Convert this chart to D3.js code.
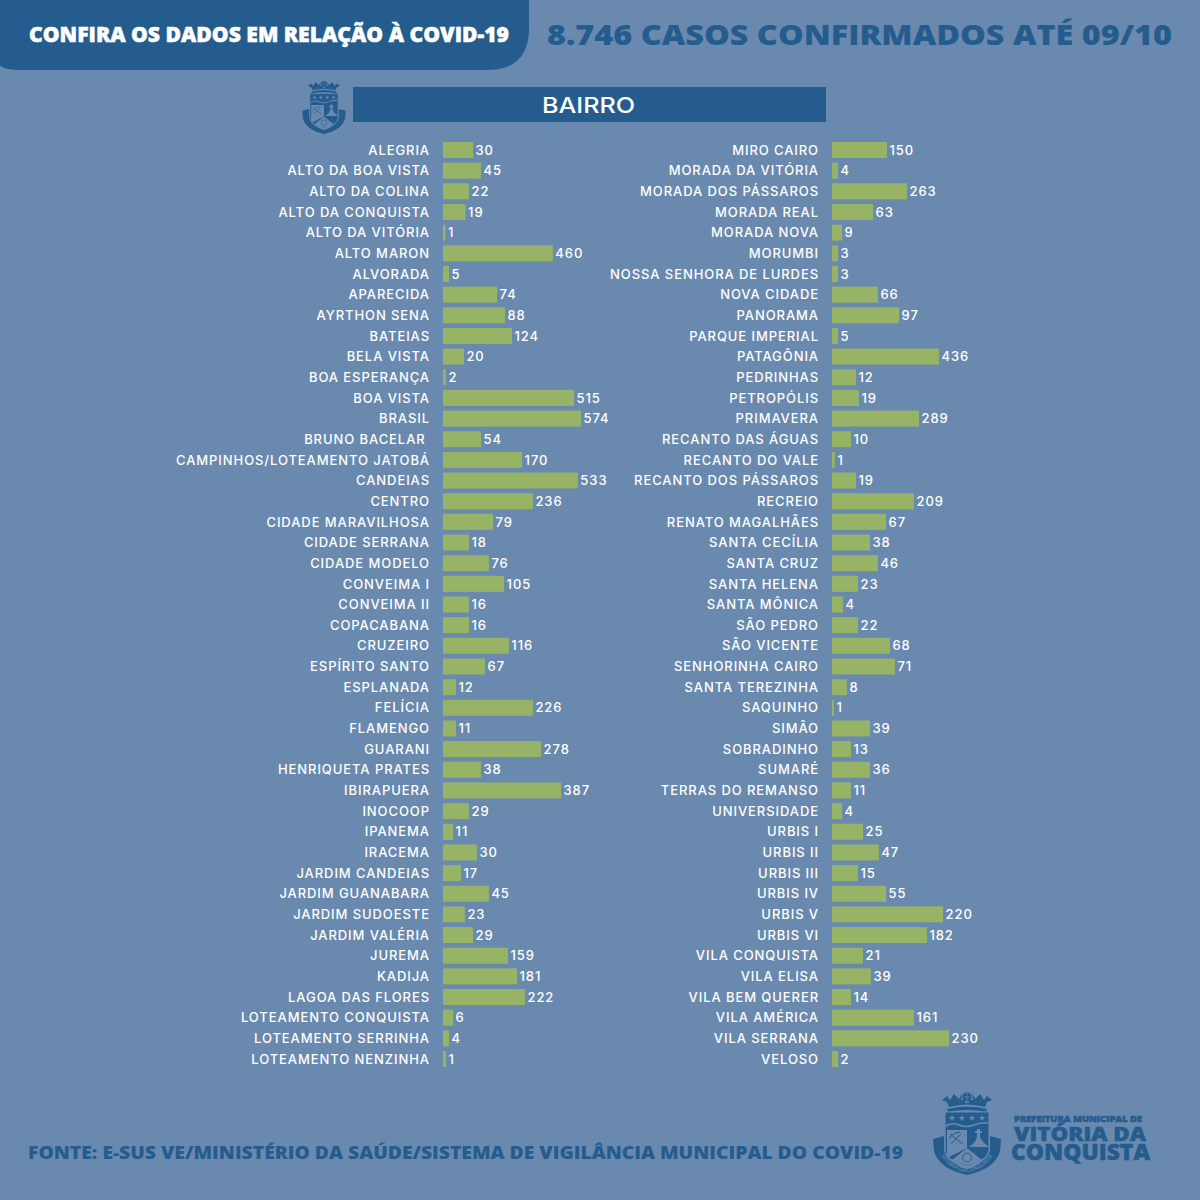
<!DOCTYPE html>
<html lang="pt-BR"><head><meta charset="utf-8">
<script src="https://cdn.jsdelivr.net/npm/d3@7/dist/d3.min.js"></script>
<style>
html,body{margin:0;padding:0;background:#6a89ae}
svg{display:block}
text{white-space:pre}
.row text{font-family:"Inter",sans-serif;font-weight:500;font-size:13px;letter-spacing:.92px;fill:#fff}
.head{font-family:"Open Sans",sans-serif;font-weight:800}
</style></head><body><svg id="c" width="1200" height="1200"></svg>
<script>
const title = "CONFIRA OS DADOS EM RELAÇÃO À COVID-19";
const subtitle = "8.746 CASOS CONFIRMADOS ATÉ 09/10";
const panelTitle = "BAIRRO";
const source = "FONTE: E-SUS VE/MINISTÉRIO DA SAÚDE/SISTEMA DE VIGILÂNCIA MUNICIPAL DO COVID-19";

const categoriesLeft = ["ALEGRIA","ALTO DA BOA VISTA","ALTO DA COLINA","ALTO DA CONQUISTA","ALTO DA VITÓRIA","ALTO MARON","ALVORADA","APARECIDA","AYRTHON SENA","BATEIAS","BELA VISTA","BOA ESPERANÇA","BOA VISTA","BRASIL","BRUNO BACELAR ","CAMPINHOS/LOTEAMENTO JATOBÁ","CANDEIAS","CENTRO","CIDADE MARAVILHOSA","CIDADE SERRANA","CIDADE MODELO","CONVEIMA I","CONVEIMA II","COPACABANA","CRUZEIRO","ESPÍRITO SANTO","ESPLANADA","FELÍCIA","FLAMENGO","GUARANI","HENRIQUETA PRATES","IBIRAPUERA","INOCOOP","IPANEMA","IRACEMA","JARDIM CANDEIAS","JARDIM GUANABARA","JARDIM SUDOESTE","JARDIM VALÉRIA","JUREMA","KADIJA","LAGOA DAS FLORES","LOTEAMENTO CONQUISTA","LOTEAMENTO SERRINHA","LOTEAMENTO NENZINHA"];
const casesLeft = [30,45,22,19,1,460,5,74,88,124,20,2,515,574,54,170,533,236,79,18,76,105,16,16,116,67,12,226,11,278,38,387,29,11,30,17,45,23,29,159,181,222,6,4,1];
// In the reference the bar lengths do not follow the printed counts, so the bars
// are read separately, on a linear scale where the longest bar (BRASIL) stands for 574.
const barReadingLeft = [125,158,108,94,10,457,25,225,258,287,87,12,545,574,158,329,561,374,208,108,191,254,108,108,274,175,54,374,54,408,158,491,108,42,141,75,191,91,125,270,308,341,42,25,12];

const categoriesRight = ["MIRO CAIRO","MORADA DA VITÓRIA","MORADA DOS PÁSSAROS","MORADA REAL","MORADA NOVA","MORUMBI","NOSSA SENHORA DE LURDES","NOVA CIDADE","PANORAMA","PARQUE IMPERIAL","PATAGÔNIA","PEDRINHAS","PETROPÓLIS","PRIMAVERA","RECANTO DAS ÁGUAS","RECANTO DO VALE","RECANTO DOS PÁSSAROS","RECREIO","RENATO MAGALHÃES","SANTA CECÍLIA","SANTA CRUZ","SANTA HELENA","SANTA MÔNICA","SÃO PEDRO","SÃO VICENTE","SENHORINHA CAIRO","SANTA TEREZINHA","SAQUINHO","SIMÃO","SOBRADINHO","SUMARÉ","TERRAS DO REMANSO","UNIVERSIDADE","URBIS I","URBIS II","URBIS III","URBIS IV","URBIS V","URBIS VI","VILA CONQUISTA","VILA ELISA","VILA BEM QUERER","VILA AMÉRICA","VILA SERRANA","VELOSO"];
const casesRight = [150,4,263,63,9,3,3,66,97,5,436,12,19,289,10,1,19,209,67,38,46,23,4,22,68,71,8,1,39,13,36,11,4,25,47,15,55,220,182,21,39,14,161,230,2];
const barReadingRight = [229,25,312,171,42,25,25,191,279,25,445,100,112,362,79,12,100,341,225,158,191,108,46,108,241,262,62,8,158,79,158,79,42,129,195,108,225,462,395,129,162,79,341,487,25];

const DARK="#255c8e", BG="#6a89ae", GREEN="#97b366", WHITE="#fff";
const svg=d3.select("#c");
svg.append("rect").attr("width",1200).attr("height",1200).attr("fill",BG);

// header band
svg.append("path").attr("fill",DARK)
  .attr("d","M0,0H529V28Q529,70 487,70H20Q6,70 0,66Z");
function fitted(sel,txt,x,y,size,len,fill,cls){
  return sel.append("text").attr("class",cls||"head").attr("x",x).attr("y",y)
    .attr("font-size",size).attr("fill",fill).attr("textLength",len)
    .attr("lengthAdjust","spacingAndGlyphs").text(txt);
}
fitted(svg,title,29,42,21,480,WHITE).attr("stroke",WHITE).attr("stroke-width",.5);
fitted(svg,subtitle,547,45,28,625,DARK);
svg.append("rect").attr("x",353).attr("y",87).attr("width",473).attr("height",35).attr("fill",DARK);
svg.append("text").attr("x",542).attr("y",112.5)
  .attr("font-family","Inter,sans-serif").attr("font-weight",500).attr("font-size",22)
  .attr("textLength",93).attr("lengthAdjust","spacingAndGlyphs")
  .attr("fill",WHITE).text(panelTitle);
fitted(svg,source,28,1159,18,875,DARK).attr("font-weight",700);

// bars
const xBar=d3.scaleLinear().domain([0,574]).range([0,138]);
function column(cats,cases,reading,x0,id){
  const y=d3.scalePoint().domain(cats).range([150,1059]);
  const g=svg.append("g").attr("class","row").attr("id",id);
  const ax=g.append("g").attr("transform",`translate(${x0},0)`)
    .call(d3.axisLeft(y).tickSize(0).tickPadding(13));
  ax.select(".domain").remove();
  ax.attr("font-family",null).attr("font-size",null);
  const data=cats.map((c,i)=>({c,v:cases[i],b:reading[i]}));
  g.selectAll("rect").data(data).join("rect")
    .attr("x",x0).attr("y",d=>y(d.c)-8).attr("width",d=>xBar(d.b)).attr("height",16).attr("fill",GREEN);
  g.selectAll("text.val").data(data).join("text").attr("class","val")
    .attr("x",d=>x0+xBar(d.b)+2.5).attr("y",d=>y(d.c)).attr("dy",".36em").text(d=>d.v);
}
column(categoriesLeft,casesLeft,barReadingLeft,443,"left");
column(categoriesRight,casesRight,barReadingRight,832,"right");

// municipal crest
function crest(cx,cy,k,withText){
  const g=svg.append("g").attr("transform",`translate(${cx},${cy}) scale(${k})`);
  // crown
  g.append("path").attr("fill",DARK).attr("d",
   "M-20,-24 Q0,-29 20,-24 L19,-21 Q0,-25 -19,-21Z M-25,-33 L-20,-37 L-17,-33 L-13,-39 L-8,-34 L-5,-40 L-6,-33 L-2,-33 L-2,-30 L2,-30 L2,-33 L6,-33 L5,-40 L8,-34 L13,-39 L17,-33 L20,-37 L25,-33 L20,-31 L18,-26 Q0,-31 -18,-26 L-20,-31Z");
  g.append("circle").attr("cy",-36).attr("r",4.6).attr("fill",DARK);
  g.append("path").attr("d","M0,-40V-32M-3,-36H3").attr("stroke",BG).attr("stroke-width",.7);
  // ribbon behind the shield
  g.append("path").attr("fill",DARK).attr("d",
    "M-34,6L-23,3L-23,16Q-20,30 0,36Q20,30 23,16L23,3L34,6L33,18Q28,36 0,42Q-28,36 -33,18Z");
  // shield
  g.append("path").attr("fill",DARK).attr("stroke",BG).attr("stroke-width",1.2)
    .attr("d","M-22,-21H22V17Q22,27 0,33Q-22,27 -22,17Z");
  // stars and wave
  [-15,-5,5,15].forEach(x=>g.append("path")
    .attr("d",d3.symbol(d3.symbolStar,14)()).attr("transform",`translate(${x},-15)`).attr("fill",BG));
  g.append("path").attr("d","M-21,-7Q-15,-11 -8,-8T7,-8T21,-10").attr("fill","none").attr("stroke",BG).attr("stroke-width",1.6);
  // left quarter with crossbow
  g.append("path").attr("fill",BG).attr("d","M-20,-3H0V15L-20,25Z");
  g.append("path").attr("fill","none").attr("stroke",DARK).attr("stroke-width",1).attr("d","M-17,1L-4,11M-6,1L-16,11M-18,5Q-13,-1 -7,-1");
  // right quarter: hill and cross
  g.append("path").attr("fill",BG).attr("d","M2,14Q9,9 10,4V0H8V-2H10V-4H13V-2H15V0H13V4Q15,9 22,14Z");
  // pile with round device
  g.append("path").attr("fill",BG).attr("d","M0,15L15,27Q8,31 0,32Q-8,31 -15,27Z");
  g.append("circle").attr("cy",24.5).attr("r",4.4).attr("fill","none").attr("stroke",DARK).attr("stroke-width",1);
  if(withText){
    g.append("defs").append("path").attr("id","arc").attr("d","M-30,9Q-27,34 0,39.5Q27,34 30,9");
    g.append("text").attr("font-family","Open Sans,sans-serif").attr("font-size",5.4).attr("font-weight",600).attr("fill",BG)
      .append("textPath").attr("href","#arc").attr("startOffset","50%").attr("text-anchor","middle").text("VITÓRIA DA CONQUISTA");
  }
}
crest(967,1133,1,true);
crest(324,107,.64,false);

// logotype: one text element with a line per tspan
const logotype=svg.append("text").attr("class","head").attr("fill",DARK).attr("stroke",DARK).attr("stroke-width",.5);
[["PREFEITURA MUNICIPAL DE",1014,1121.5,8,128],["VITÓRIA DA",1014,1141,18.5,132],["CONQUISTA",1011,1160,22,139]]
 .forEach(([t,x,y,s,l])=>logotype.append("tspan").attr("x",x).attr("y",y).attr("font-size",s)
   .attr("textLength",l).attr("lengthAdjust","spacingAndGlyphs").text(t));
</script></body></html>
